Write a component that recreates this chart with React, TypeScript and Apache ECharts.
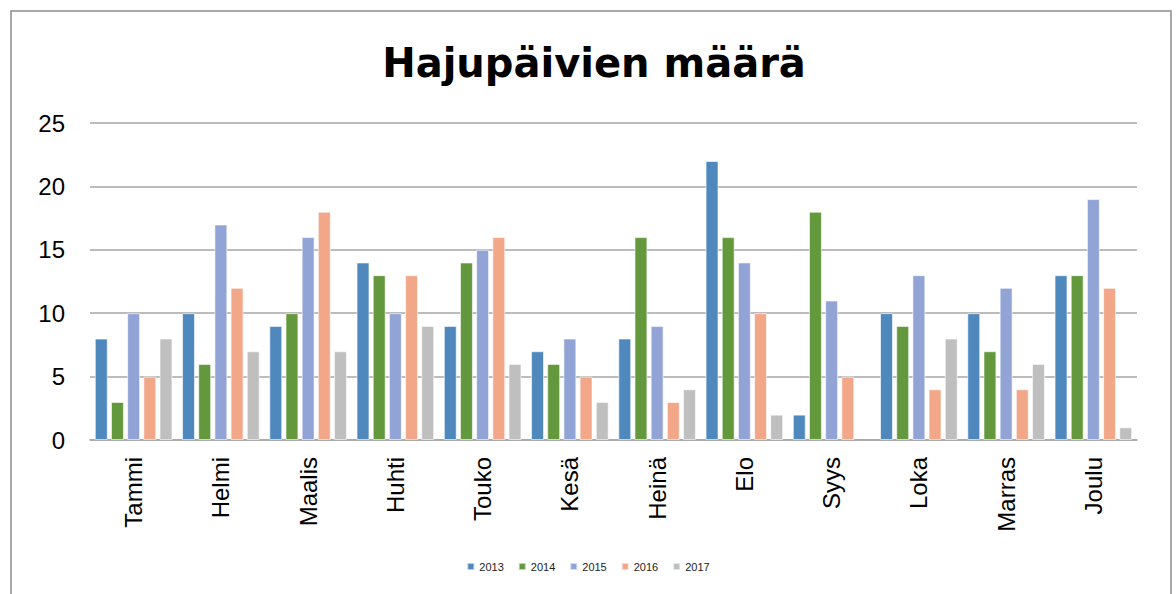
import React, { useEffect, useRef } from "react";
import * as echarts from "echarts";

const categories = ["Tammi", "Helmi", "Maalis", "Huhti", "Touko", "Kesä", "Heinä", "Elo", "Syys", "Loka", "Marras", "Joulu"];
const years = ["2013", "2014", "2015", "2016", "2017"];
const v2013 = [8, 10, 9, 14, 9, 7, 8, 22, 2, 10, 10, 13];
const v2014 = [3, 6, 10, 13, 14, 6, 16, 16, 18, 9, 7, 13];
const v2015 = [10, 17, 16, 10, 15, 8, 9, 14, 11, 13, 12, 19];
const v2016 = [5, 12, 18, 13, 16, 5, 3, 10, 5, 4, 4, 12];
const v2017 = [8, 7, 7, 9, 6, 3, 4, 2, 0, 8, 6, 1];
const colors = ["#4f88bd", "#63983d", "#91a4d5", "#f1a788", "#bfbfbf"];
const yTicks = [0, 5, 10, 15, 20, 25];

export default function App() {
  const ref = useRef<HTMLDivElement>(null);
  useEffect(() => {
    document.body.style.margin = "0";
    const chart = echarts.init(ref.current!, null, { renderer: "svg" });
    const values = [v2013, v2014, v2015, v2016, v2017];
    chart.setOption({
      animation: false,
      backgroundColor: "#ffffff",
      title: {
        text: "Hajupäivien määrä",
        left: 589,
        top: 38,
        textAlign: "center",
        textStyle: { fontFamily: "DejaVu Sans", fontWeight: "bold", fontSize: 40, color: "#000" },
      },
      graphic: [
        {
          type: "rect",
          shape: { x: 11, y: 11, width: 1160, height: 620 },
          style: { fill: "none", stroke: "#8c8c8c", lineWidth: 1.5 },
          silent: true,
        },
      ],
      legend: {
        data: years,
        left: "center",
        top: 556,
        itemWidth: 7,
        itemHeight: 7,
        itemGap: 14,
        icon: "rect",
        textStyle: { fontFamily: "Liberation Sans Narrow, Liberation Sans", fontSize: 11, color: "#222" },
      },
      grid: { left: 90, right: 39, top: 123, bottom: 154 },
      xAxis: {
        type: "category",
        data: categories,
        axisLine: { lineStyle: { color: "#a6a6a6", width: 1.5 } },
        axisTick: { show: false },
        axisLabel: {
          rotate: 90,
          margin: 17,
          fontSize: 24,
          fontFamily: "Liberation Sans",
          color: "#000",
        },
      },
      yAxis: {
        type: "value",
        min: 0,
        max: 25,
        interval: 5,
        axisLine: { show: false },
        axisTick: { show: false },
        splitLine: { lineStyle: { color: "#a6a6a6", width: 1.5 } },
        axisLabel: {
          margin: 25,
          fontSize: 24,
          fontFamily: "Liberation Sans",
          color: "#000",
          formatter: (v: number) => (yTicks.includes(v) ? String(v) : ""),
        },
      },
      series: years.map((y, i) => ({
        name: y,
        type: "bar",
        data: values[i].map((v) => (v === 0 ? "-" : v)),
        barGap: "25%",
        barCategoryGap: "11%",
        itemStyle: { color: colors[i], borderColor: "rgba(255,255,255,0.6)", borderWidth: 1 },
      })),
    });
    return () => chart.dispose();
  }, []);
  return <div ref={ref} style={{ width: 1176, height: 594 }} />;
}
